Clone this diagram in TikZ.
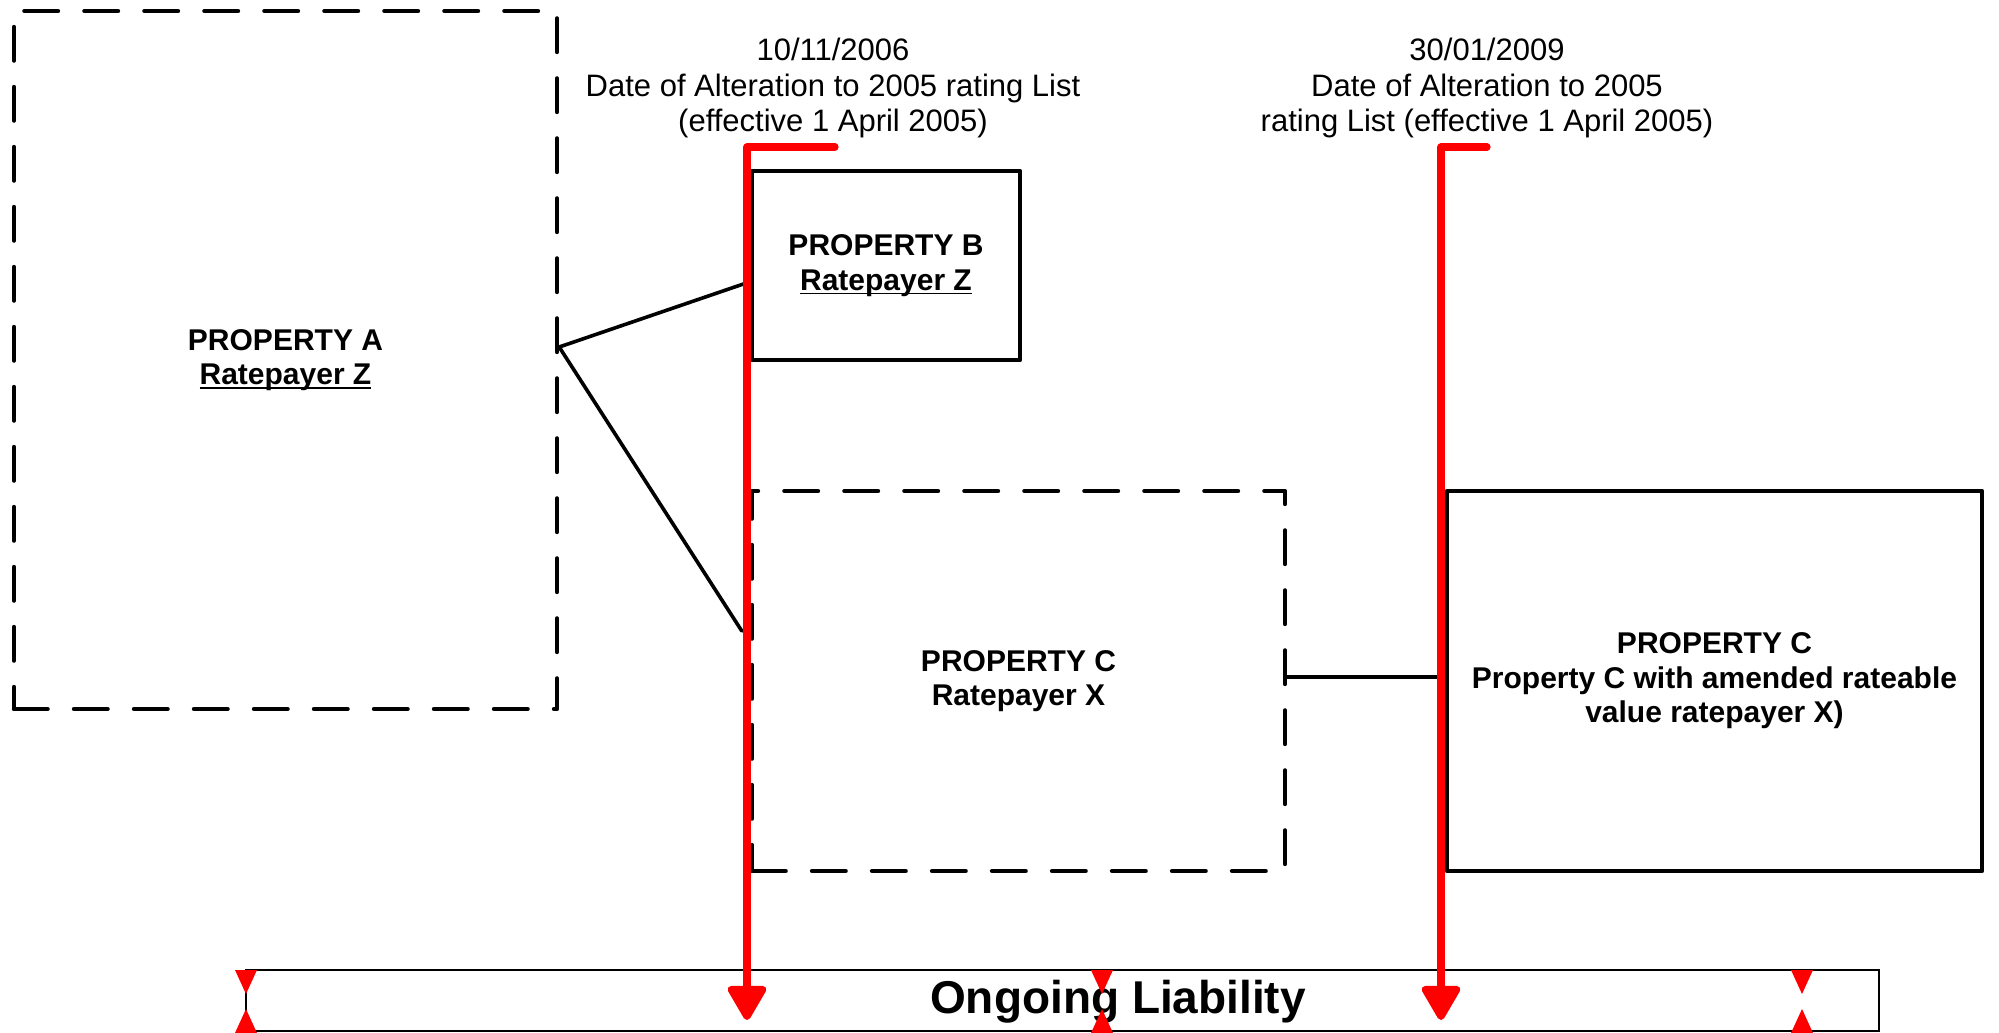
\documentclass[tikz,border=0pt]{standalone}
\usepackage{fontspec}
\setmainfont{Liberation Sans}
\usetikzlibrary{arrows.meta,calc}

% underline with a heavier rule, set just under the baseline
\newcommand{\ul}[1]{\setbox0\hbox{#1}\rlap{\rule[-2.2pt]{\wd0}{0.9pt}}\box0}

\begin{document}
\begin{tikzpicture}[x=0.5pt,y=-0.5pt,
  solidbox/.style={draw, line width=2.2pt, line join=round, inner sep=0pt, align=center},
  dashbox/.style={solidbox, line cap=round, dash pattern=on 16.8pt off 13.2pt},
  proptext/.style={font=\bfseries\fontsize{15}{17.2}\selectfont,
    execute at begin node={\rule{0pt}{19.5pt}}},
  datetext/.style={align=center, font=\fontsize{15.5}{17.9}\selectfont},
  link/.style={draw, line width=1.8pt, line cap=round},
  alterline/.style={draw=red, line width=3.6pt, line join=round, line cap=round,
    -{Triangle[length=19pt,width=21pt,round]}},
]
\useasboundingbox (0,0) rectangle (1999,1033);

% property boxes
\node[dashbox, proptext, minimum width=271.5pt, minimum height=349pt] (pa) at (285.5,360)
  {PROPERTY A\\\ul{Ratepayer Z}};
\node[solidbox, proptext, minimum width=134pt, minimum height=94.5pt] (pb) at (886,265.5)
  {PROPERTY B\\\ul{Ratepayer Z}};
\node[dashbox, proptext, minimum width=266.5pt, minimum height=190pt] (pcx) at (1018.5,681)
  {PROPERTY C\\Ratepayer X};
\node[solidbox, proptext, minimum width=267.5pt, minimum height=190pt] (pcr) at (1714.5,681)
  {PROPERTY C\\Property C with amended rateable\\value ratepayer X)};

% liability bar
\node[draw, line width=1.2pt, inner sep=0pt, minimum width=816.5pt, minimum height=30.5pt] (bar) at (1062.5,1000.5) {};
\node[font=\bfseries\fontsize{23}{26}\selectfont] (ongoing) at (1118,1002) {Ongoing Liability};
\foreach \tx in {246,1102,1802}{
  \fill[red] (\tx-11,970) -- (\tx+11,970) -- (\tx,994) -- cycle;
  \fill[red] (\tx-11,1033) -- (\tx+11,1033) -- (\tx,1009) -- cycle;
}

% alteration dates
\node[datetext] (d1) at (833,88) {10/11/2006\\Date of Alteration to 2005 rating List\\(effective 1 April 2005)};
\node[datetext] (d2) at (1487,88) {30/01/2009\\Date of Alteration to 2005\\rating List (effective 1 April 2005)};

\coordinate (hook1) at (835,147);
\coordinate (corner1) at (747,147);
\coordinate (tip1) at (747,1020);
\coordinate (hook2) at (1487,147);
\coordinate (corner2) at (1441,147);
\coordinate (tip2) at (1441,1020);

% links between properties
\coordinate (ajoin) at ($(pa.east)+(0,-13)$);
\draw[link] (ajoin) -- ($(pb.west)+(-2,17)$);
\draw[link] (ajoin) -- ($(pcx.west)+(-8,-50)$);
\draw[link] ($(pcx.east)+(0,-4)$) -- ($(pcr.west)+(0,-4)$);

% alteration markers
\draw[alterline] (hook1) -- (corner1) -- (tip1);
\draw[alterline] (hook2) -- (corner2) -- (tip2);
\end{tikzpicture}
\end{document}
